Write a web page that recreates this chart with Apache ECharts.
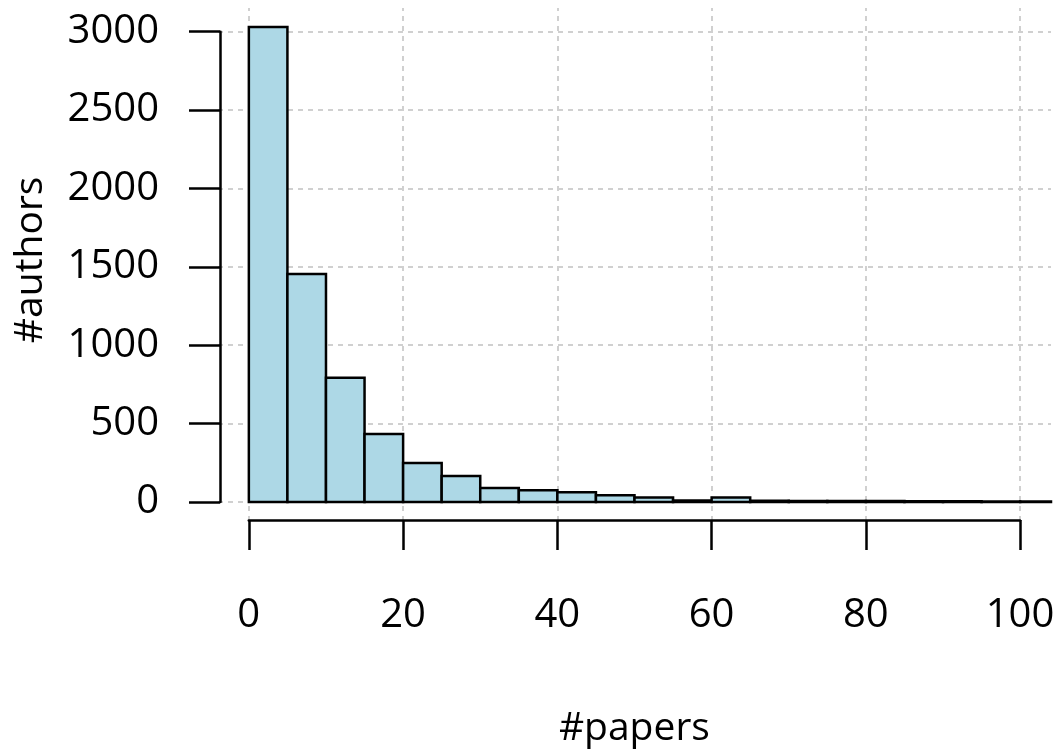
<!DOCTYPE html>
<html>
<head>
<meta charset="utf-8">
<script src="https://cdn.jsdelivr.net/npm/echarts@6/dist/echarts.min.js"></script>
<style>
  html, body { margin: 0; padding: 0; background: #fff; }
  #main { width: 1059px; height: 749px; }
</style>
</head>
<body>
<div id="main"></div>
<script>
// histogram bins (edges) and counts
var binStarts = [0, 5, 10, 15, 20, 25, 30, 35, 40, 45, 50, 55, 60, 65, 70, 75, 80, 85, 90, 95, 100]
var binEnds = [5, 10, 15, 20, 25, 30, 35, 40, 45, 50, 55, 60, 65, 70, 75, 80, 85, 90, 95, 100, 105]
var counts = [3030, 1455, 793, 434, 249, 166, 89, 75, 62, 43, 29, 10, 29, 8, 7, 6, 6, 5, 5, 4, 4]
var xTicks = [0, 20, 40, 60, 80, 100]
var yTicks = [0, 500, 1000, 1500, 2000, 2500, 3000]

var font = "'Open Sans', sans-serif"
var chart = echarts.init(document.getElementById('main'))

var barData = []
binStarts.forEach(function (s, i) {
	barData.push([s, binEnds[i], counts[i]])
})

var gridLines = []
xTicks.forEach(function (v) { gridLines.push({ xAxis: v }) })
yTicks.forEach(function (v) { gridLines.push({ yAxis: v }) })

function plain(v) { return String(v) }

chart.setOption({
	animation: false,
	backgroundColor: '#fff',
	grid: [
		// full plot region (R's 4% padding around the data range)
		{ left: 218, right: 8, top: 8, bottom: 228, outerBoundsMode: 'none' },
		// x axis sits on this grid's bottom edge
		{ left: 248.8, right: 39, top: 31.7, bottom: 229, outerBoundsMode: 'none' },
		// y axis sits on this grid's left edge
		{ left: 220, right: 39, top: 31.7, bottom: 247, outerBoundsMode: 'none' }
	],
	xAxis: [
		{ gridIndex: 0, type: 'value', min: -4, max: 104, show: false },
		{
			gridIndex: 1, type: 'value', min: 0, max: 100, interval: 20,
			position: 'bottom', z: 3,
			axisLine: { show: true, onZero: false, lineStyle: { color: '#000', width: 2.5 } },
			axisTick: { show: true, length: 30, lineStyle: { color: '#000', width: 2.5 } },
			axisLabel: { margin: 76, fontSize: 40, fontFamily: font, color: '#000', formatter: plain },
			splitLine: { show: false },
			name: '#papers', nameLocation: 'middle', nameGap: 189,
			nameTextStyle: { fontSize: 39, fontFamily: font, color: '#000' }
		},
		{ gridIndex: 2, type: 'value', min: 0, max: 100, show: false }
	],
	yAxis: [
		{ gridIndex: 0, type: 'value', min: -121, max: 3151, show: false },
		{ gridIndex: 1, type: 'value', min: 0, max: 3000, show: false },
		{
			gridIndex: 2, type: 'value', min: 0, max: 3000, interval: 500,
			position: 'left', z: 3,
			axisLine: { show: true, onZero: false, lineStyle: { color: '#000', width: 2.5 } },
			axisTick: { show: true, length: 31, lineStyle: { color: '#000', width: 2.5 } },
			axisLabel: { margin: 61, fontSize: 40, fontFamily: font, color: '#000', formatter: plain },
			splitLine: { show: false },
			name: '#authors', nameLocation: 'middle', nameGap: 170,
			nameTextStyle: { fontSize: 39, fontFamily: font, color: '#000', padding: [0, 0, 0, 14] }
		}
	],
	series: [
		{
			type: 'line', xAxisIndex: 0, yAxisIndex: 0, data: [], z: 1,
			markLine: {
				z: 1, silent: true, symbol: 'none', label: { show: false },
				lineStyle: { color: '#d0d0d0', width: 2, type: [5, 5] },
				data: gridLines
			}
		},
		{
			type: 'custom', xAxisIndex: 0, yAxisIndex: 0, z: 5,
			data: barData,
			renderItem: function (params, api) {
				var p0 = api.coord([api.value(0), 0])
				var p1 = api.coord([api.value(1), api.value(2)])
				var shape = echarts.graphic.clipRectByRect(
					{ x: p0[0], y: p1[1], width: p1[0] - p0[0], height: p0[1] - p1[1] },
					{ x: params.coordSys.x, y: params.coordSys.y, width: params.coordSys.width, height: params.coordSys.height })
				return shape && {
					type: 'rect', shape: shape,
					style: { fill: '#add8e6', stroke: '#000', lineWidth: 2.5 }
				}
			}
		}
	]
})
</script>
</body>
</html>
